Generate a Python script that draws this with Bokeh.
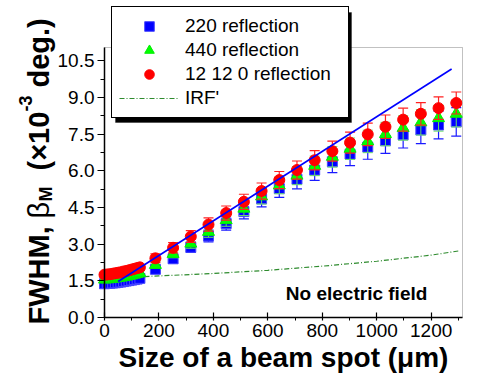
from bokeh.plotting import figure
from bokeh.models import (ColumnDataSource, Legend, LegendItem, Label, BoxAnnotation,
                          FixedTicker, NumeralTickFormatter, Range1d)
from bokeh.embed import file_html
from bokeh.resources import INLINE

# ---------------- data ----------------
dense_x = [0, 10, 20, 30, 40, 50, 60, 70, 80, 90, 100, 110, 120, 130]
dense_220 = [1.38, 1.39, 1.40, 1.41, 1.42, 1.44, 1.45, 1.47, 1.49, 1.51, 1.53, 1.55, 1.57, 1.60]
dense_440 = [1.55, 1.56, 1.57, 1.58, 1.60, 1.62, 1.63, 1.65, 1.67, 1.70, 1.72, 1.75, 1.78, 1.81]
dense_1212 = [1.75, 1.76, 1.77, 1.79, 1.81, 1.83, 1.85, 1.88, 1.90, 1.93, 1.96, 1.99, 2.02, 2.05]
dense_err = [0.08, 0.08, 0.08, 0.08, 0.08, 0.08, 0.09, 0.09, 0.09, 0.09, 0.10, 0.10, 0.10, 0.10]

spot_x = [187, 252, 317, 382, 447, 512, 577, 642, 707, 772, 837, 902, 967, 1032, 1097, 1162, 1227, 1292]
fwhm_220 = [1.97, 2.40, 2.87, 3.33, 3.84, 4.33, 4.85, 5.27, 5.65, 6.03, 6.37, 6.68, 6.97, 7.23, 7.47, 7.67, 7.87, 8.00]
fwhm_440 = [2.15, 2.60, 3.02, 3.50, 3.98, 4.45, 4.95, 5.40, 5.80, 6.20, 6.57, 6.90, 7.20, 7.50, 7.75, 7.98, 8.15, 8.33]
fwhm_1212 = [2.42, 2.85, 3.31, 3.80, 4.27, 4.73, 5.17, 5.62, 6.03, 6.43, 6.80, 7.15, 7.49, 7.80, 8.09, 8.33, 8.56, 8.77]
err_220 = [0.15, 0.18, 0.21, 0.24, 0.27, 0.30, 0.33, 0.36, 0.39, 0.42, 0.45, 0.47, 0.50, 0.52, 0.54, 0.56, 0.57, 0.58]
err_440 = [0.13, 0.16, 0.19, 0.22, 0.25, 0.28, 0.31, 0.34, 0.37, 0.40, 0.42, 0.44, 0.46, 0.48, 0.50, 0.52, 0.53, 0.54]
err_1212 = [0.18, 0.21, 0.24, 0.27, 0.29, 0.31, 0.33, 0.35, 0.37, 0.39, 0.41, 0.43, 0.46, 0.48, 0.47, 0.46, 0.46, 0.45]

fit_x = [50, 1275]
fit_y = [1.47, 10.16]

irf_x = [0, 200, 400, 600, 800, 1000, 1200, 1300]
irf_y = [1.60, 1.70, 1.80, 1.93, 2.10, 2.30, 2.55, 2.72]

x_ticks = [0, 200, 400, 600, 800, 1000, 1200]
y_ticks = [0.0, 1.5, 3.0, 4.5, 6.0, 7.5, 9.0, 10.5]
x_minor = [100, 300, 500, 700, 900, 1100, 1300]
y_minor = [0.75, 2.25, 3.75, 5.25, 6.75, 8.25, 9.75]
x_max = 1315
y_max = 11.04

series_labels = ["220 reflection", "440 reflection", "12 12 0 reflection", "IRF'"]
annotation_text = "No electric field"
x_title = "Size of a beam spot (μm)"

FONT = "Liberation Sans"

# ---------------- layout ----------------
W, H = 464, 373
FL, FR, FT, FB = 104, 462, 47, 317          # pixel box of the axes frame
kx = x_max / (FR - FL)
ky = y_max / (FB - FT)


def px_x(sx):
    return (sx - FL) * kx


def px_y(sy):
    return (FB - sy) * ky


p = figure(width=W, height=H, output_backend="svg", toolbar_location=None,
           x_range=Range1d(px_x(0), px_x(W)), y_range=Range1d(px_y(H), px_y(0)),
           min_border=0)
p.title.visible = False
p.xgrid.visible = False
p.ygrid.visible = False
p.background_fill_color = "white"
p.border_fill_color = "white"
p.outline_line_color = None

# frame box (top/right edges)
p.add_layout(BoxAnnotation(left=0, right=x_max, bottom=0, top=y_max, fill_color=None,
                           line_color="#333333", line_width=1, level="underlay"))


def src(xs, ys, es):
    return ColumnDataSource(dict(x=xs, y=ys, lo=[a - b for a, b in zip(ys, es)],
                                 hi=[a + b for a, b in zip(ys, es)]))


s220 = src(dense_x + spot_x, dense_220 + fwhm_220, dense_err + err_220)
s440 = src(dense_x + spot_x, dense_440 + fwhm_440, dense_err + err_440)
s1212 = src(dense_x + spot_x, dense_1212 + fwhm_1212, dense_err + err_1212)


def errbars(s, color, width=1.2):
    p.segment(x0="x", y0="lo", x1="x", y1="hi", source=s, line_color=color, line_width=width)
    p.scatter(x="x", y="lo", source=s, marker="dash", size=10, line_color=color, line_width=width)
    p.scatter(x="x", y="hi", source=s, marker="dash", size=10, line_color=color, line_width=width)


irf = p.line(irf_x, irf_y, line_color="#2e8b2e", line_width=1.2, line_dash="5 2 1 2")

errbars(s220, "#1a1aff")
r220 = p.scatter(x="x", y="y", source=s220, marker="square", size=10,
                 fill_color="#0000ff", line_color="#4848ff", line_width=1)
errbars(s440, "#66dd66", 1.0)
r440 = p.scatter(x="x", y="y", source=s440, marker="triangle", size=12,
                 fill_color="#00ff00", line_color="#00ee00", line_width=1)
errbars(s1212, "#ff2020")
r1212 = p.scatter(x="x", y="y", source=s1212, marker="circle", size=11,
                  fill_color="#ff0000", line_color="#ff0000", line_width=1)

p.line(fit_x, fit_y, line_color="#0000ff", line_width=1.6)

# ---------------- axes (pinned at the data origin) ----------------
xa = p.xaxis[0]
ya = p.yaxis[0]
xa.fixed_location = 0
ya.fixed_location = 0
xa.bounds = (0, x_max)
ya.bounds = (0, y_max)
for ax in (xa, ya):
    ax.axis_line_color = "black"
    ax.axis_line_width = 1.5
    ax.major_tick_line_color = "black"
    ax.minor_tick_line_color = "black"
    ax.major_tick_line_width = 1.2
    ax.minor_tick_line_width = 1
    ax.major_label_text_font = FONT
    ax.major_label_text_font_size = "19px"
    ax.major_label_text_color = "black"

xa.ticker = FixedTicker(ticks=x_ticks, minor_ticks=x_minor)
ya.ticker = FixedTicker(ticks=y_ticks, minor_ticks=y_minor)
ya.formatter = NumeralTickFormatter(format="0.0")
xa.major_tick_in = 5
xa.major_tick_out = 3
xa.minor_tick_in = 0
xa.minor_tick_out = 3
ya.major_tick_in = 0
ya.major_tick_out = 7
ya.minor_tick_in = 0
ya.minor_tick_out = 4
xa.major_label_standoff = 3
ya.major_label_standoff = 3

xa.axis_label = x_title
xa.axis_label_text_font = FONT
xa.axis_label_text_font_size = "28px"
xa.axis_label_text_font_style = "bold"
xa.axis_label_text_color = "black"
xa.axis_label_standoff = 2

# rotated y-axis title composed of pieces (sub/superscripts);
# offsets in pixels from the origin corner of the axes frame
y_pieces = [
    ("FWHM,", "29px", "bold", 0, -7),
    ("β", "29px", "normal", 0, 99),
    ("M", "18px", "bold", 7, 116),
    ("(×10", "29px", "bold", 0, 147),
    ("-3", "18px", "bold", -13, 206),
    ("deg.)", "29px", "bold", 0, 230),
]
for txt, fs, style, dx, dy in y_pieces:
    p.add_layout(Label(x=0, y=0, x_offset=-66 + dx, y_offset=dy, text=txt, angle=90,
                       angle_units="deg", text_font=FONT, text_font_size=fs,
                       text_font_style=style, text_color="black",
                       text_align="left", text_baseline="alphabetic"))

p.add_layout(Label(x=926, y=1.0, text=annotation_text, text_font=FONT,
                   text_font_size="19px", text_font_style="bold", text_color="black",
                   text_align="center", text_baseline="middle"))

# ---------------- legend with drop shadow ----------------
items = [LegendItem(label=series_labels[0], renderers=[r220]),
         LegendItem(label=series_labels[1], renderers=[r440]),
         LegendItem(label=series_labels[2], renderers=[r1212]),
         LegendItem(label=series_labels[3], renderers=[irf])]

LEG_PAD, LEG_GW, LEG_LW, LEG_STAND, LEG_ROW = 7, 60, 156, 6, 24
leg_w = 2 * LEG_PAD + LEG_GW + LEG_STAND + LEG_LW
leg_h = 2 * LEG_PAD + 4 * LEG_ROW
leg_left, leg_top = FL + 7, 8

p.add_layout(BoxAnnotation(left=px_x(leg_left + 4), right=px_x(leg_left + leg_w + 4),
                           top=px_y(leg_top + 4), bottom=px_y(leg_top + leg_h + 4),
                           fill_color="black", fill_alpha=1, line_color="black",
                           line_width=1, level="annotation"))

legend = Legend(items=items, location=(leg_left, H - leg_top - leg_h), orientation="vertical",
                background_fill_color="white", background_fill_alpha=1,
                border_line_color="black", border_line_alpha=1, border_line_width=1,
                label_text_font=FONT, label_text_font_size="19px",
                label_text_color="black", glyph_width=LEG_GW, glyph_height=LEG_ROW,
                label_height=LEG_ROW, label_width=LEG_LW, spacing=0, padding=LEG_PAD,
                margin=0, label_standoff=LEG_STAND)
p.add_layout(legend, "center")

open("out.html", "w").write(file_html(p, INLINE))
